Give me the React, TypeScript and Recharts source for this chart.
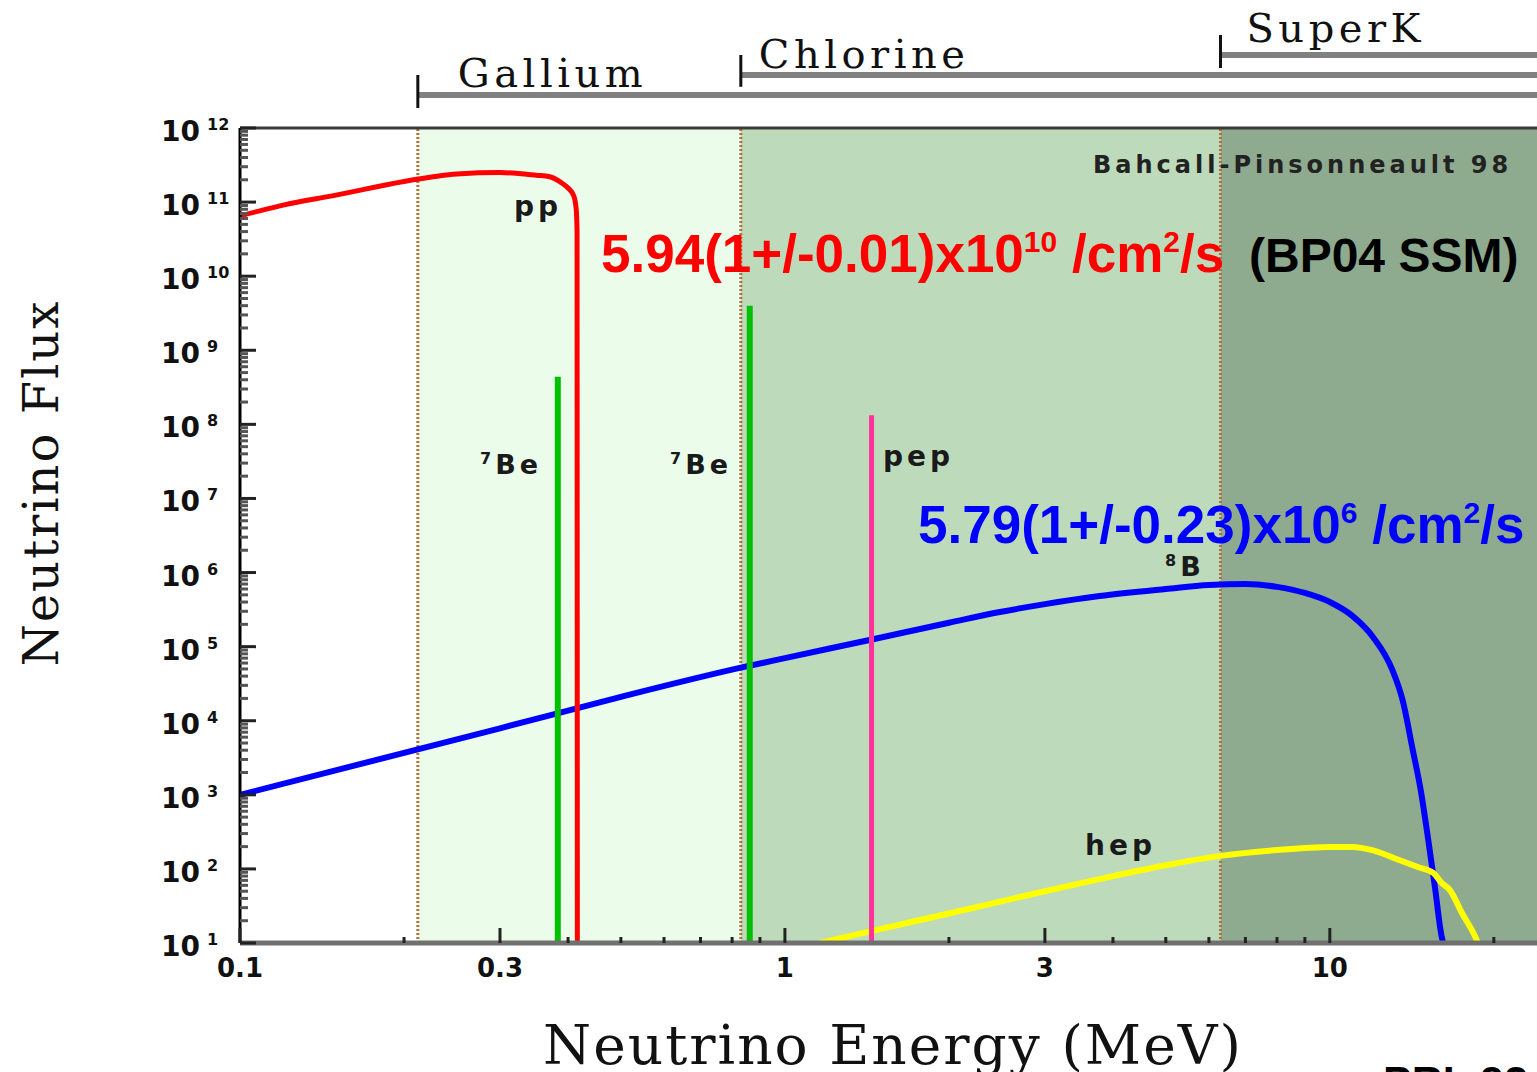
import React from 'react'
import { LineChart, Line, XAxis, YAxis, ReferenceArea, ReferenceLine } from 'recharts'

// pp continuum (cm^-2 s^-1 MeV^-1)
const ppEnergy = [0.1, 0.11, 0.12, 0.15, 0.2, 0.25, 0.3, 0.35, 0.37, 0.39, 0.4, 0.41, 0.414, 0.4155, 0.416]
const ppFlux = [6.5e10, 7.8e10, 9.1e10, 1.24e11, 1.9e11, 2.4e11, 2.5e11, 2.3e11, 2.2e11, 1.8e11, 1.55e11, 1.2e11, 8e10, 4e10, 10]

// 8B continuum
const b8Energy = [0.1, 0.3, 0.5, 0.83, 1, 1.43, 2, 2.48, 3, 3.78, 5, 6, 7, 8, 9, 10, 11, 12, 13, 13.6, 14.2, 14.7, 15.1, 15.6, 16.05, 16.15]
const b8Flux = [1.0e3, 7.9e3, 2.1e4, 5.2e4, 7.0e4, 1.23e5, 2.1e5, 2.93e5, 3.75e5, 4.82e5, 6.0e5, 6.8e5, 7.0e5, 6.4e5, 5.3e5, 4.0e5, 2.6e5, 1.35e5, 5.0e4, 1.9e4, 4.0e3, 1.1e3, 300, 55, 12, 10]

// hep continuum
const hepEnergy = [1.16, 1.5, 2, 3, 4, 5, 6.3, 8, 10, 11, 12, 13.4, 14.5, 15.5, 16, 16.6, 17.5, 18.5, 18.7]
const hepFlux = [10, 15.5, 25, 50, 80, 112, 150, 180, 198, 198, 178, 132, 106, 88, 66, 52, 25, 12, 10]

// monochromatic lines (cm^-2 s^-1)
const be7Energy = [0.383, 0.862]
const be7Flux = [4.4e8, 4.0e9]
const pepEnergy = 1.442
const pepFlux = 1.33e8

// detector thresholds (MeV) and the bracket rows drawn above the frame
const detectorNames = ['Gallium', 'Chlorine', 'SuperK']
const thresholdEnergy = [0.212, 0.83, 6.3]
const bracketFlux = [2.79e12, 5.19e12, 9.66e12]
const bracketTickLow = [1.86e12, 3.6e12, 6.45e12]
const bracketTickHigh = [5.2e12, 9.66e12, 1.8e13]
const bracketLabelDx = [40, 18, 26]
const bracketLabelDy = [-8, -7, -13]

const zoneFill = ['#ebfdea', '#bddbba', '#8fab8f']

const X_MIN = 0.1
const X_MAX = 24
const Y_MIN = 10
const Y_MAX = 1e12

const xLabelled = [0.1, 0.3, 1, 3, 10]
const xTicks = [0.1, 0.2, 0.3, 0.4, 0.5, 0.6, 0.7, 0.8, 0.9, 1, 2, 3, 4, 5, 6, 7, 8, 9, 10, 20]
const yDecades = [1, 2, 3, 4, 5, 6, 7, 8, 9, 10, 11, 12]
const yMinorSteps = [2, 3, 4, 5, 6, 7, 8, 9]

const yTicks: number[] = []
yDecades.forEach(d => {
  yTicks.push(Math.pow(10, d))
  if (d < 12) yMinorSteps.forEach(m => yTicks.push(m * Math.pow(10, d)))
})
const yMajorTicks = yDecades.map(d => Math.pow(10, d))

const toPoints = (es: number[], fs: number[]) => es.map((e, i) => ({ e, f: fs[i] }))
const ppData = toPoints(ppEnergy, ppFlux)
const b8Data = toPoints(b8Energy, b8Flux)
const hepData = toPoints(hepEnergy, hepFlux)
const lineData = (e: number, f: number) => [{ e, f: Y_MIN }, { e, f }]

const isDecade = (v: number) => Math.abs(Math.log10(v) - Math.round(Math.log10(v))) < 1e-6

const tickFont = '"DejaVu Sans", sans-serif'
const titleFont = '"DejaVu Serif", serif'
const boldSans = '"Liberation Sans", Arial, sans-serif'

function BottomTick(props: any) {
  const { x, y, payload } = props
  const v = payload.value
  const lab = xLabelled.some(l => Math.abs(l - v) < 1e-9)
  return (
    <g>
      <line x1={x} x2={x} y1={y} y2={y - (lab ? 15 : 6)} stroke="#222" strokeWidth={3} />
      {lab && (
        <text x={x} y={y + 34} textAnchor="middle" fontFamily={tickFont} fontWeight="bold" fontSize={26} fill="#111">
          {String(v)}
        </text>
      )}
    </g>
  )
}

function TopTick(props: any) {
  const { x, y, payload } = props
  const lab = xLabelled.some(l => Math.abs(l - payload.value) < 1e-9)
  return <line x1={x} x2={x} y1={y} y2={y + (lab ? 13 : 6)} stroke="#222" strokeWidth={3} />
}

function LeftTick(props: any) {
  const { x, y, payload } = props
  const v = payload.value
  const major = isDecade(v)
  const exp = Math.round(Math.log10(v))
  return (
    <g>
      <line x1={x} x2={x + (major ? 16 : 8)} y1={y} y2={y} stroke={major ? '#222' : '#555'} strokeWidth={3} />
      {major && (
        <text fontFamily={tickFont} fontWeight="bold" fill="#111">
          <tspan x={x - 79} y={y + 13} fontSize={28}>10</tspan>
          <tspan x={x - 33} y={y + 2} fontSize={16}>{exp}</tspan>
        </text>
      )}
    </g>
  )
}

function RightTick(props: any) {
  const { x, y } = props
  return <line x1={x} x2={x - 8} y1={y} y2={y} stroke="#222" strokeWidth={3} />
}

function BracketLabel(props: any) {
  const { viewBox, text, dx, dy } = props
  if (!viewBox) return null
  return (
    <text x={viewBox.x + dx} y={viewBox.y + dy} fontFamily={titleFont} fontSize={40} letterSpacing={4.5} fill="#111">
      {text}
    </text>
  )
}

const markLabel = { fontFamily: tickFont, fontWeight: 'bold' as const, fill: '#1a1a1a', letterSpacing: 4 }

export default function App() {
  return (
    <div style={{ position: 'absolute', left: 0, top: 0, width: 1537, height: 1072, background: '#fff', overflow: 'hidden' }}>
      <LineChart width={1537} height={1072} margin={{ top: 0, right: 0, bottom: 0, left: 0 }}>
        <XAxis
          dataKey="e" type="number" scale="log" domain={[X_MIN, X_MAX]} allowDataOverflow
          ticks={xTicks} interval={0} tickSize={0} tickMargin={0} tickLine={false}
          tick={<BottomTick />} height={129}
          axisLine={{ stroke: '#707070', strokeWidth: 5 }}
        />
        <XAxis
          xAxisId="top" orientation="top" type="number" scale="log" domain={[X_MIN, X_MAX]} allowDataOverflow
          ticks={xTicks} interval={0} tickSize={0} tickMargin={0} tickLine={false}
          tick={<TopTick />} height={128}
          axisLine={{ stroke: '#3a3a3a', strokeWidth: 3 }}
        />
        <YAxis
          dataKey="f" type="number" scale="log" domain={[Y_MIN, Y_MAX]} allowDataOverflow
          ticks={yTicks} interval={0} tickSize={0} tickMargin={0} tickLine={false}
          tick={<LeftTick />} width={240}
          axisLine={{ stroke: '#000', strokeWidth: 3 }}
        />
        <YAxis
          yAxisId="right" orientation="right" type="number" scale="log" domain={[Y_MIN, Y_MAX]} allowDataOverflow
          ticks={yMajorTicks} interval={0} tickSize={0} tickMargin={0} tickLine={false}
          tick={<RightTick />} width={0} axisLine={false}
        />

        <ReferenceArea x1={thresholdEnergy[0]} x2={thresholdEnergy[1]} fill={zoneFill[0]} fillOpacity={1} stroke="none" />
        <ReferenceArea x1={thresholdEnergy[1]} x2={thresholdEnergy[2]} fill={zoneFill[1]} fillOpacity={1} stroke="none" />
        <ReferenceArea x1={thresholdEnergy[2]} x2={X_MAX} fill={zoneFill[2]} fillOpacity={1} stroke="none" />

        {thresholdEnergy.map(t => (
          <ReferenceLine key={'th' + t} x={t} stroke="#b0703a" strokeWidth={3} strokeDasharray="2 2" />
        ))}

        {detectorNames.map((name, i) => (
          <ReferenceLine
            key={'br' + name}
            segment={[{ x: thresholdEnergy[i], y: bracketFlux[i] }, { x: X_MAX, y: bracketFlux[i] }]}
            ifOverflow="visible" stroke="#808080" strokeWidth={6}
            label={<BracketLabel text={name} dx={bracketLabelDx[i]} dy={bracketLabelDy[i]} />}
          />
        ))}
        {detectorNames.map((name, i) => (
          <ReferenceLine
            key={'bt' + name}
            segment={[{ x: thresholdEnergy[i], y: bracketTickLow[i] }, { x: thresholdEnergy[i], y: bracketTickHigh[i] }]}
            ifOverflow="visible" stroke="#111" strokeWidth={3}
          />
        ))}

        <Line data={b8Data} dataKey="f" stroke="#0000ff" strokeWidth={6} dot={false} isAnimationActive={false} type="monotone" />
        <Line data={hepData} dataKey="f" stroke="#ffff00" strokeWidth={6} dot={false} isAnimationActive={false} type="monotone" />
        <Line data={ppData} dataKey="f" stroke="#ff0000" strokeWidth={5} dot={false} isAnimationActive={false} type="monotone" />
        {be7Energy.map((e, i) => (
          <Line key={'be' + e} data={lineData(e, be7Flux[i])} dataKey="f" stroke="#00c000" strokeWidth={6} dot={false} isAnimationActive={false} type="linear" />
        ))}
        <Line data={lineData(pepEnergy, pepFlux)} dataKey="f" stroke="#ff3399" strokeWidth={5} dot={false} isAnimationActive={false} type="linear" />
      </LineChart>

      <svg width={1537} height={1072} style={{ position: 'absolute', left: 0, top: 0, pointerEvents: 'none' }}>
        <text x={1093} y={173} fontFamily={tickFont} fontWeight="bold" fontSize={24} letterSpacing={4} fill="#222">
          Bahcall-Pinsonneault 98
        </text>
        <text x={514} y={216} fontSize={28} {...markLabel}>pp</text>
        <text x={480} y={474} fontSize={27} {...markLabel}>
          <tspan fontSize={16} dy={-10}>7</tspan><tspan dy={10}>Be</tspan>
        </text>
        <text x={670} y={474} fontSize={27} {...markLabel}>
          <tspan fontSize={16} dy={-10}>7</tspan><tspan dy={10}>Be</tspan>
        </text>
        <text x={883} y={466} fontSize={28} {...markLabel}>pep</text>
        <text x={1165} y={576} fontSize={27} {...markLabel}>
          <tspan fontSize={16} dy={-10}>8</tspan><tspan dy={10}>B</tspan>
        </text>
        <text x={1085} y={855} fontSize={28} {...markLabel}>hep</text>

        <text x={601} y={272} fontFamily={boldSans} fontWeight="bold" fontSize={53} fill="#ff0000">
          5.94(1+/-0.01)x10<tspan fontSize={30} dy={-20}>10</tspan><tspan dy={20}> /cm</tspan>
          <tspan fontSize={30} dy={-20}>2</tspan><tspan dy={20}>/s</tspan>
        </text>
        <text x={1249} y={272} fontFamily={boldSans} fontWeight="bold" fontSize={48} fill="#000">(BP04 SSM)</text>
        <text x={918} y={543} fontFamily={boldSans} fontWeight="bold" fontSize={53} fill="#0000ff">
          5.79(1+/-0.23)x10<tspan fontSize={30} dy={-20}>6</tspan><tspan dy={20}> /cm</tspan>
          <tspan fontSize={30} dy={-20}>2</tspan><tspan dy={20}>/s</tspan>
        </text>

        <text x={893} y={1064} textAnchor="middle" fontFamily={titleFont} fontSize={55} letterSpacing={2} fill="#111">
          Neutrino Energy (MeV)
        </text>
        <text transform="translate(58 483) rotate(-90)" textAnchor="middle" fontFamily={titleFont} fontSize={48} letterSpacing={2} fill="#111">
          Neutrino Flux
        </text>
        <text x={1383} y={1096} fontFamily={boldSans} fontWeight="bold" fontSize={43} fill="#000">PRL 92</text>
      </svg>
    </div>
  )
}
